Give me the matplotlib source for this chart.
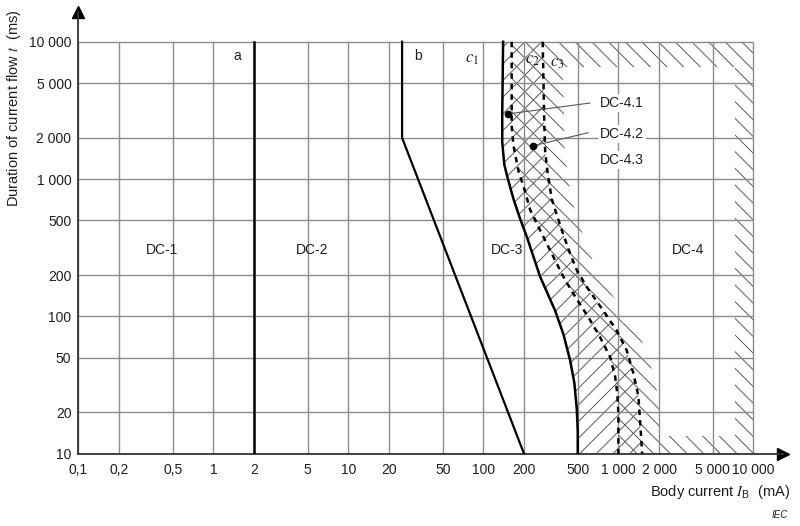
import matplotlib
matplotlib.use('Agg')
import matplotlib.pyplot as plt
import numpy as np
from matplotlib.patches import Rectangle
from matplotlib.ticker import NullLocator

plt.rcParams['font.family'] = ['Liberation Sans', 'DejaVu Sans']
plt.rcParams['mathtext.fontset'] = 'stix'
plt.rcParams['hatch.linewidth'] = 0.7

# ---- values (body current mA, duration ms) ----
x_ticks = [0.1, 0.2, 0.5, 1, 2, 5, 10, 20, 50, 100, 200, 500, 1000, 2000, 5000, 10000]
x_labels = ['0,1', '0,2', '0,5', '1', '2', '5', '10', '20', '50', '100', '200',
            '500', '1 000', '2 000', '5 000', '10 000']
y_ticks = [10, 20, 50, 100, 200, 500, 1000, 2000, 5000, 10000]
y_labels = ['10', '20', '50', '100', '200', '500', '1 000', '2 000', '5 000', '10 000']

a_i = [2, 2]
a_t = [10, 10000]
b_i = [25, 25, 200]
b_t = [10000, 2000, 10]
c1_i = [140, 138, 138, 143, 152, 167, 187, 210, 235, 263, 340, 391, 439, 472, 492, 500, 500]
c1_t = [10000, 3000, 1845, 1271, 1000, 718, 515, 379, 272, 195, 110, 74.5, 47.9, 32.7, 21.1, 14.5, 10]
c2_i = [162, 162, 167, 182, 204, 222, 249, 303, 359, 403, 490, 600, 732, 869, 946, 980, 1000, 1000]
c2_t = [10000, 2443, 1758, 1142, 809, 598, 473, 321, 230, 184, 134, 98.4, 70.5, 50.6, 36.5, 27.7, 20, 10]
c3_i = [275, 283, 287, 300, 321, 350, 381, 439, 492, 583, 672, 774, 973, 1153, 1291, 1406, 1449, 1500]
c3_t = [10000, 2443, 1574, 1084, 718, 547, 424, 287, 217, 164, 134, 110, 78.7, 56.5, 38.5, 26.3, 17.1, 10]

# DC-4.x markers and their label anchors
dot_i = [153, 232]
dot_t = [2985, 1745]
lead_i = [617, 597]
lead_t = [3580, 2175]

zone_names = ['DC-1', 'DC-2', 'DC-3', 'DC-4']
zone_i = [0.42, 5.4, 150, 3280]
zone_t = 305

# hatched fringe beyond c3
band_k = 1.4
frame_top = 6500
frame_right = 7300
frame_bottom = 13.4

fig = plt.figure(figsize=(8, 5.26), dpi=100)
ax = fig.add_axes([0.0979, 0.1375, 0.881, 0.8397])
ax.set_xscale('log')
ax.set_yscale('log')
ax.set_xlim(0.1, 16600)
ax.set_ylim(10, 16480)

hcol = '0.35'
# c1 .. c3 : "/" hatch
ax.fill(np.r_[c1_i, c3_i[::-1]], np.r_[c1_t, c3_t[::-1]],
        facecolor='none', edgecolor=hcol, lw=0, hatch='//', zorder=1)
# c2 .. right edge : "\" hatch
ax.fill(np.r_[c2_i, 10000, 10000], np.r_[c2_t, 10, 10000],
        facecolor='none', edgecolor=hcol, lw=0, hatch='\\\\', zorder=1)
# white inner part of DC-4, leaving only the fringe hatched
c3_out = np.array(c3_i) * band_k
hole = ax.fill(np.r_[c3_out, frame_right, frame_right], np.r_[c3_t, 10, 10000],
               facecolor='white', lw=0, zorder=1.2)[0]
clip = Rectangle((100, frame_bottom), frame_right - 100, frame_top - frame_bottom,
                 transform=ax.transData)
hole.set_clip_path(clip)

# grid only inside the 0,1..10 000 / 10..10 000 box
gcol = '0.55'
ax.vlines(x_ticks, 10, 10000, color=gcol, lw=1.0, zorder=2)
ax.hlines(y_ticks, 0.1, 10000, color=gcol, lw=1.0, zorder=2)

ax.plot(a_i, a_t, color='k', lw=1.8, zorder=3)
ax.plot(b_i, b_t, color='k', lw=1.6, zorder=3)
ax.plot(c1_i, c1_t, color='k', lw=1.8, zorder=3, solid_joinstyle='round')
ax.plot(c2_i, c2_t, color='k', lw=1.8, dashes=(2.2, 2), zorder=3)
ax.plot(c3_i, c3_t, color='k', lw=1.8, dashes=(2.2, 2), zorder=3)

for i in range(2):
    ax.plot([dot_i[i], lead_i[i]], [dot_t[i], lead_t[i]], color='0.35', lw=0.8, zorder=3)
ax.plot(dot_i, dot_t, 'o', color='k', ms=4.5, zorder=4)

tcol = '0.12'
box = dict(facecolor='white', edgecolor='none', pad=1.5)
ax.text(731, 3580, 'DC-4.1', fontsize=10, color=tcol, va='center', ha='left', bbox=box, zorder=5)
ax.text(731, 2140, 'DC-4.2', fontsize=10, color=tcol, va='center', ha='left', bbox=box, zorder=5)
ax.text(731, 1375, 'DC-4.3', fontsize=10, color=tcol, va='center', ha='left', bbox=box, zorder=5)

for name, xi in zip(zone_names, zone_i):
    ax.text(xi, zone_t, name, fontsize=10, color=tcol, ha='center', va='center', zorder=5)

ax.text(1.5, 7850, 'a', fontsize=10, color=tcol, ha='center', va='center', zorder=5)
ax.text(32.8, 7850, 'b', fontsize=10, color=tcol, ha='center', va='center', zorder=5)
ax.text(82, 7430, '$c_1$', fontsize=12, color=tcol, ha='center', va='center', zorder=5)
ax.text(229, 7300, '$c_2$', fontsize=12, color=tcol, ha='center', va='center', zorder=5)
ax.text(350, 7000, '$c_3$', fontsize=12, color=tcol, ha='center', va='center', zorder=5)

ax.set_xticks(x_ticks)
ax.set_xticklabels(x_labels)
ax.set_yticks(y_ticks)
ax.set_yticklabels(y_labels)
ax.xaxis.set_minor_locator(NullLocator())
ax.yaxis.set_minor_locator(NullLocator())
ax.tick_params(length=0, labelsize=10, labelcolor=tcol)
ax.tick_params(axis='x', pad=7)
ax.tick_params(axis='y', pad=5)

for s in ['top', 'right']:
    ax.spines[s].set_visible(False)
for s in ['left', 'bottom']:
    ax.spines[s].set_color('0.2')
    ax.spines[s].set_linewidth(1.3)
ax.plot(1, 0, marker='>', ms=9, color='k', transform=ax.transAxes, clip_on=False)
ax.plot(0, 1, marker='^', ms=9, color='k', transform=ax.transAxes, clip_on=False)

fig.text(14 / 800, 1 - 108 / 526, 'Duration of current flow $t$  (ms)', rotation=90,
         fontsize=10.5, color=tcol, ha='center', va='center')
fig.text(790 / 800, 1 - 492 / 526, r'Body current $I_{\mathregular{B}}$  (mA)',
         fontsize=10.5, color=tcol, ha='right', va='center')
fig.text(788 / 800, 1 - 515 / 526, 'IEC', fontsize=7, style='italic', color=tcol,
         ha='right', va='center')

fig.savefig('out.png', dpi=100)
